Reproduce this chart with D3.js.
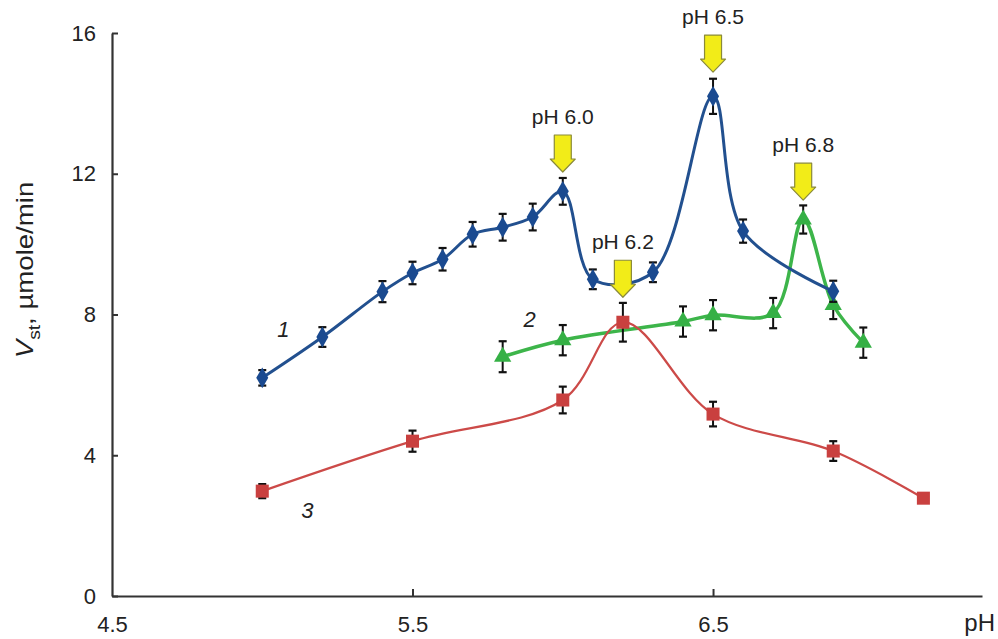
<!DOCTYPE html>
<html>
<head>
<meta charset="utf-8">
<script src="https://cdn.jsdelivr.net/npm/d3@7"></script>
<style>
  body { margin: 0; background: #fff; }
  svg { display: block; font-family: "Liberation Sans", Arial, sans-serif; }
</style>
</head>
<body>
<div id="chart"></div>
<script>
// curve 1 (blue diamonds)
var phBlue  = [5.0, 5.2, 5.4, 5.5, 5.6, 5.7, 5.8, 5.9, 6.0, 6.1, 6.3, 6.5, 6.6, 6.9];
var vBlue   = [6.2, 7.36, 8.65, 9.18, 9.57, 10.28, 10.48, 10.77, 11.5, 9.0, 9.2, 14.2, 10.37, 8.66];
var errBlue = [0.22, 0.28, 0.3, 0.32, 0.32, 0.35, 0.38, 0.38, 0.38, 0.28, 0.28, 0.5, 0.33, 0.3];

// curve 2 (green triangles)
var phGreen  = [5.8, 6.0, 6.4, 6.5, 6.7, 6.8, 6.9, 7.0];
var vGreen   = [6.8, 7.27, 7.8, 7.98, 8.04, 10.7, 8.27, 7.2];
var errGreen = [0.44, 0.43, 0.43, 0.43, 0.43, 0.4, 0.4, 0.43];

// curve 3 (red squares)
var phRed  = [5.0, 5.5, 6.0, 6.2, 6.5, 6.9, 7.2];
var vRed   = [2.98, 4.4, 5.57, 7.78, 5.17, 4.12, 2.78];
var errRed = [0.2, 0.3, 0.38, 0.55, 0.35, 0.28, 0.12];

// arrows: pH, value at arrow tip
var arrowPh  = [6.0, 6.5, 6.2, 6.8];
var arrowTip = [12.05, 14.89, 8.49, 11.25];
var arrowText = ["pH 6.0", "pH 6.5", "pH 6.2", "pH 6.8"];

var yTicks = [0, 4, 8, 12, 16];
var xTicks = [4.5, 5.5, 6.5];

var width = 998, height = 639;

var svg = d3.select("#chart").append("svg")
    .attr("width", width)
    .attr("height", height);

var x = d3.scaleLinear().domain([4.5, 7.395]).range([112, 982]);
var y = d3.scaleLinear().domain([0, 16]).range([596, 33]);

// axes
var yAxis = svg.append("g")
    .attr("transform", "translate(112,0)")
    .call(d3.axisLeft(y).tickValues(yTicks).tickSize(-6).tickSizeOuter(0).tickPadding(16).tickFormat(d3.format("d")));

var xAxis = svg.append("g")
    .attr("transform", "translate(0,596)")
    .call(d3.axisBottom(x).tickValues(xTicks).tickSize(-7).tickSizeOuter(0).tickPadding(19).tickFormat(d3.format(".1f")));

[yAxis, xAxis].forEach(function(a) {
  a.selectAll("path.domain").attr("stroke", "#333").attr("stroke-width", 2.2);
  a.selectAll(".tick line").attr("stroke", "#333").attr("stroke-width", 2);
  a.selectAll(".tick text").attr("fill", "#222").style("font-size", "22px")
    .style("font-family", "'Liberation Sans', Arial, sans-serif");
});
xAxis.selectAll(".tick").filter(function(d) { return d === 4.5; }).select("line").remove();
xAxis.selectAll(".tick text").attr("dy", "0.75em");
yAxis.selectAll(".tick text").attr("dy", "0.32em");

svg.append("text")
    .attr("x", 995).attr("y", 631)
    .attr("text-anchor", "end")
    .style("font-size", "24px").attr("fill", "#222")
    .text("pH");

// y label (stretched along its length like the original)
var yl = svg.append("text")
    .attr("transform", "translate(33,270) rotate(-90) scale(1.2,1)")
    .attr("text-anchor", "middle")
    .style("font-size", "23px").attr("fill", "#222");
yl.append("tspan").style("font-style", "italic").text("V");
yl.append("tspan").attr("dy", 7).style("font-size", "16px").text("st");
yl.append("tspan").attr("dy", -7).text(", µmole/min");

var line = d3.line()
    .x(function(d) { return x(d.ph); })
    .y(function(d) { return y(d.v); })
    .curve(d3.curveCatmullRom.alpha(0.5));

function rows(ph, v, err) {
  return ph.map(function(p, i) { return { ph: p, v: v[i], e: err[i] }; });
}

var series = [
  { data: rows(phGreen, vGreen, errGreen), color: "#3db54a", mark: "#35b045", width: 3.5, shape: d3.symbolTriangle, size: 130 },
  { data: rows(phRed, vRed, errRed), color: "#cc4a48", mark: "#c9403f", width: 2.2, shape: d3.symbolSquare, size: 170 },
  { data: rows(phBlue, vBlue, errBlue), color: "#22508f", mark: "#1a4a90", width: 3, shape: d3.symbolDiamond, size: 125 }
];

series.forEach(function(s) {
  var g = svg.append("g");
  g.append("path")
      .datum(s.data)
      .attr("fill", "none")
      .attr("stroke", s.color)
      .attr("stroke-width", s.width)
      .attr("d", line);

  var eb = g.selectAll("g.err").data(s.data).enter().append("g");
  eb.append("line")
      .attr("x1", function(d) { return x(d.ph); })
      .attr("x2", function(d) { return x(d.ph); })
      .attr("y1", function(d) { return y(d.v + d.e); })
      .attr("y2", function(d) { return y(d.v - d.e); })
      .attr("stroke", "#111").attr("stroke-width", 2);
  [1, -1].forEach(function(sg) {
    eb.append("line")
        .attr("x1", function(d) { return x(d.ph) - 4; })
        .attr("x2", function(d) { return x(d.ph) + 4; })
        .attr("y1", function(d) { return y(d.v + sg * d.e); })
        .attr("y2", function(d) { return y(d.v + sg * d.e); })
        .attr("stroke", "#111").attr("stroke-width", 2.2);
  });

  g.selectAll("path.mark").data(s.data).enter().append("path")
      .attr("class", "mark")
      .attr("d", d3.symbol().type(s.shape).size(s.size))
      .attr("transform", function(d) { return "translate(" + x(d.ph) + "," + y(d.v) + ")"; })
      .attr("fill", s.mark);
});

// series numbers
var numPh = [5.07, 5.89, 5.15];
var numV = [7.36, 7.65, 2.22];
var numText = ["1", "2", "3"];
svg.selectAll("text.num").data(numText).enter().append("text")
    .attr("x", function(d, i) { return x(numPh[i]); })
    .attr("y", function(d, i) { return y(numV[i]); })
    .attr("text-anchor", "middle")
    .style("font-size", "22px").style("font-style", "italic").attr("fill", "#222")
    .text(function(d) { return d; });

// yellow arrows with labels
var arrows = arrowPh.map(function(p, i) { return { ph: p, tip: arrowTip[i], label: arrowText[i] }; });
var ag = svg.selectAll("g.arrow").data(arrows).enter().append("g")
    .attr("transform", function(d) { return "translate(" + x(d.ph) + "," + y(d.tip) + ")"; });
ag.append("path")
    .attr("d", "M-8.5,-37 L8.5,-37 L8.5,-13 L12.5,-13 L0,0 L-12.5,-13 L-8.5,-13 Z")
    .attr("fill", "#f2ec18")
    .attr("stroke", "#8a8a3a")
    .attr("stroke-width", 1.2)
    .attr("stroke-linejoin", "round");
ag.append("text")
    .attr("y", -48)
    .attr("text-anchor", "middle")
    .style("font-size", "21px").attr("fill", "#222")
    .text(function(d) { return d.label; });
</script>
</body>
</html>
